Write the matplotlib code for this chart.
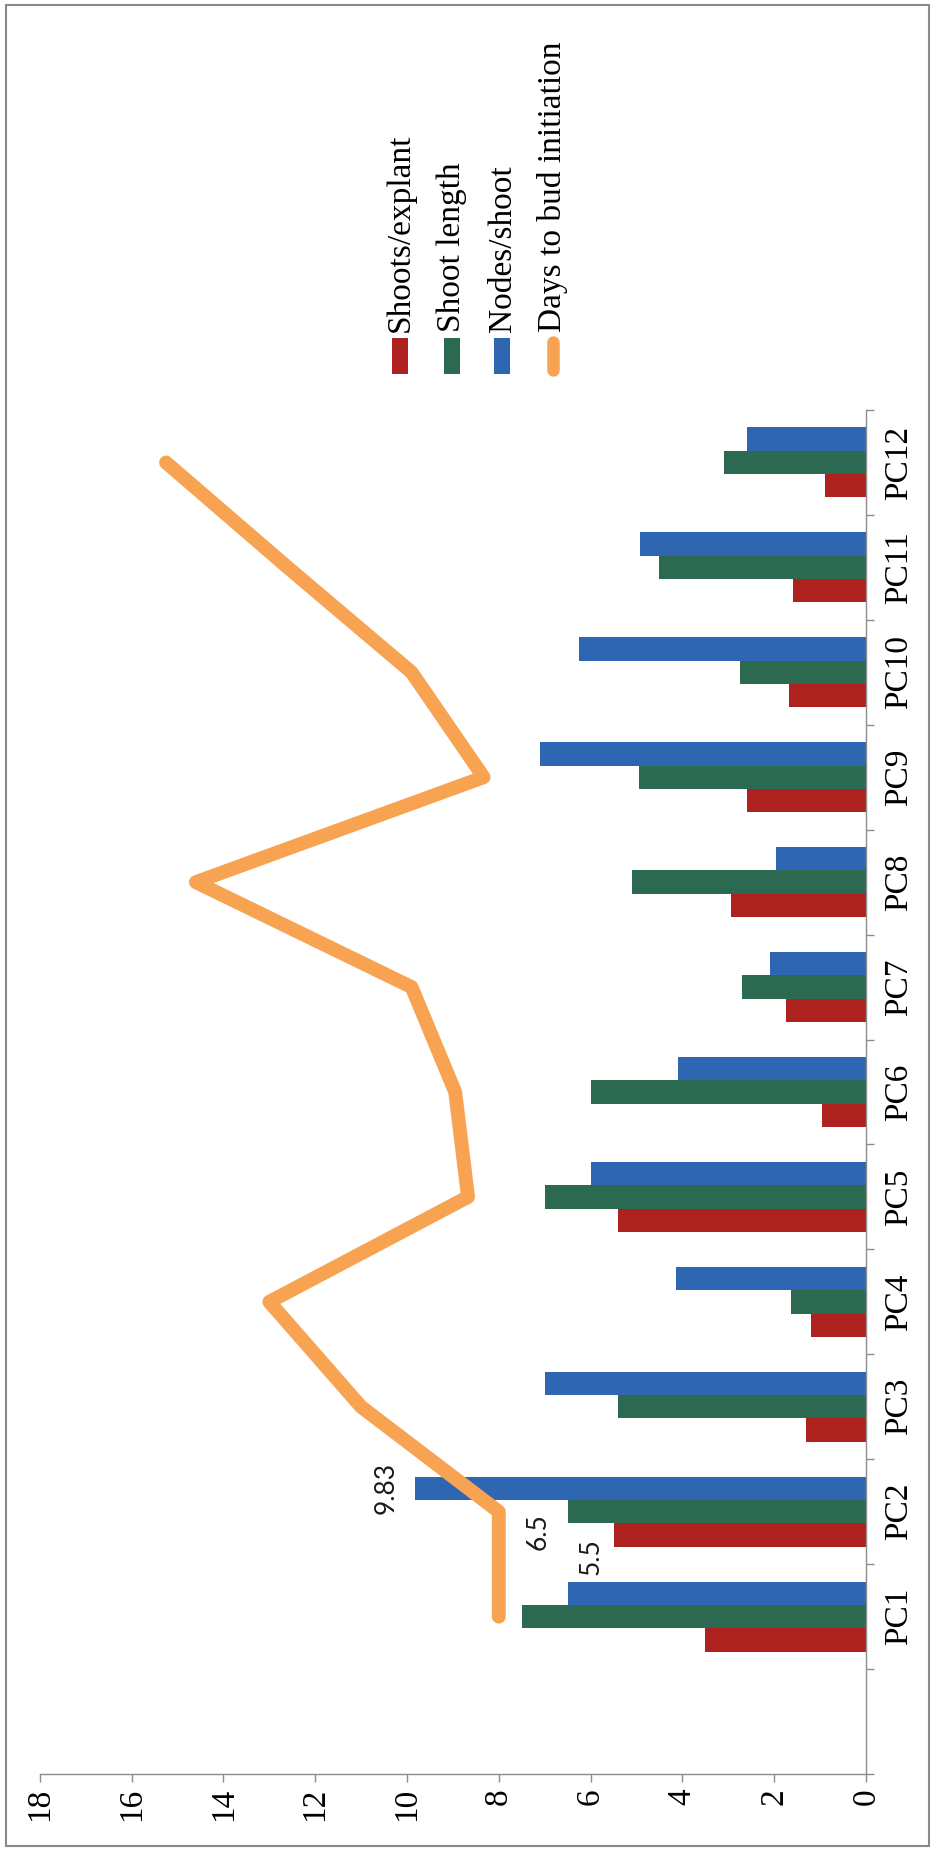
import numpy as np
import matplotlib.pyplot as plt
from matplotlib.patches import Rectangle
from matplotlib.lines import Line2D

plt.rcParams['font.family'] = ['Liberation Serif', 'DejaVu Serif']

# ====== Data ======
categories = ["PC1", "PC2", "PC3", "PC4", "PC5", "PC6",
              "PC7", "PC8", "PC9", "PC10", "PC11", "PC12"]

shoots_per_explant = [3.5, 5.5, 1.3, 1.2, 5.4, 0.95, 1.75, 2.95, 2.6, 1.67, 1.6, 0.9]
shoot_length = [7.5, 6.5, 5.4, 1.63, 7.0, 6.0, 2.7, 5.1, 4.95, 2.75, 4.5, 3.1]
nodes_per_shoot = [6.5, 9.83, 7.0, 4.14, 6.0, 4.1, 2.1, 1.95, 7.1, 6.25, 4.93, 2.6]
days_to_bud = [8.0, 8.0, 11.0, 13.0, 8.67, 8.95, 9.9, 14.6, 8.33, 9.9, 12.6, 15.25]

series_names = ["Shoots/explant", "Shoot length", "Nodes/shoot", "Days to bud initiation"]
colors = ["#AD221F", "#2B6A50", "#2E66B1", "#F7A352"]

value_ticks = list(range(0, 19, 2))

# ====== Figure (drawn sideways: values run right-to-left) ======
W, H = 937, 1851
fig = plt.figure(figsize=(W / 100, H / 100), dpi=100)
ax = fig.add_axes([39.8 / W, 77 / H, (866 - 39.8) / W, (1774 - 410) / H])

pos = np.arange(1, len(categories) + 1)
w = 0.2225
bar_data = [shoots_per_explant, shoot_length, nodes_per_shoot]
for k, vals in enumerate(bar_data):
    ax.barh(pos + (k - 1) * w, vals, height=w, color=colors[k], linewidth=0)

ax.plot(days_to_bud, pos, color=colors[3], lw=10,
        solid_capstyle='round', solid_joinstyle='round')

# value labels on PC2
offsets = [(-16, -15.5), (-21, -14.5), (-21, 0)]
for k, vals in enumerate(bar_data):
    ax.annotate(f"{vals[1]:g}", xy=(vals[1], pos[1] + (k - 1) * w),
                xytext=offsets[k], textcoords='offset points',
                rotation=90, ha='center', va='center',
                fontsize=19, family=['Lato', 'DejaVu Sans'], color='#1a1a1a')

# axes
ax.set_xlim(18, 0)
ax.set_ylim(-0.5, len(categories) + 0.5)
ax.set_xticks(value_ticks)
ax.set_xticklabels([str(v) for v in value_ticks])
ax.tick_params(axis='x', labelrotation=90, labelsize=24, length=6, width=1,
               color='#8c8c8c', pad=4)

ax.yaxis.tick_right()
ax.set_yticks(np.arange(-0.5, len(categories) + 1, 1))
ax.set_yticklabels([])
ax.set_yticks(pos, minor=True)
ax.set_yticklabels(categories, minor=True)
ax.tick_params(axis='y', which='major', length=6, width=1, color='#8c8c8c')
ax.tick_params(axis='y', which='minor', length=0, pad=13, labelsize=24,
               labelrotation=90)
for lab in ax.get_yticklabels(minor=True):
    lab.set_va('center')

for s in ['left', 'top']:
    ax.spines[s].set_visible(False)
for s in ['right', 'bottom']:
    ax.spines[s].set_color('#8c8c8c')
    ax.spines[s].set_linewidth(1)

# ====== Legend (rotated) ======
leg_x = [400.5, 452, 502.5, 553]
for k, name in enumerate(series_names):
    xf = leg_x[k] / W
    if k < 3:
        fig.patches.append(Rectangle((xf - 8 / W, 1 - 374 / H), 16 / W, 36 / H,
                                     transform=fig.transFigure,
                                     color=colors[k], linewidth=0))
    else:
        fig.lines.append(Line2D([xf, xf], [1 - 370 / H, 1 - 342 / H],
                                transform=fig.transFigure, color=colors[k],
                                lw=9, solid_capstyle='round'))
    fig.text(xf, 1 - 332 / H, name, rotation=90, ha='center', va='bottom',
             fontsize=24)

# outer frame
fig.patches.append(Rectangle((6 / W, 5 / H), 923 / W, 1841 / H,
                             transform=fig.transFigure, fill=False,
                             edgecolor='#8a8a8a', linewidth=1.5))

fig.savefig("out.png", dpi=100)
